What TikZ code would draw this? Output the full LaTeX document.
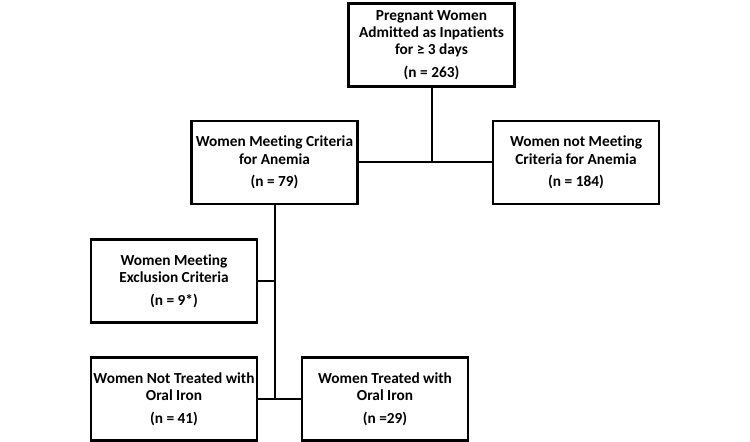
\documentclass[tikz,border=0pt]{standalone}
\usepackage{fontspec}
\setmainfont{Carlito}[Ligatures={NoCommon}]
\usetikzlibrary{positioning,calc}
\tikzset{
  box/.style  = {draw, line width=1.6pt, rectangle, minimum width=124.5pt,
                 minimum height=62.25pt, align=center, inner sep=2pt,
                 font=\fontsize{11.5}{13}\selectfont\bfseries},
  link/.style = {line width=1.5pt},
}

\begin{document}
\begin{tikzpicture}[x=0.75pt,y=-0.75pt]
\useasboundingbox (0,0) rectangle (750,442);
\node[box] (admitted) at (431.5,45)
  {Pregnant Women\\Admitted as Inpatients\\for ≥ 3 days\\[4pt](n = 263)};
\node[box] (anemia) at (274.5,162.5)
  {Women Meeting Criteria\\for Anemia\\[4pt](n = 79)};
\node[box] (noanemia) at (576,162.5)
  {Women not Meeting\\Criteria for Anemia\\[4pt](n = 184)};
\node[box] (excluded) at (174,281)
  {Women Meeting\\Exclusion Criteria\\[4pt](n = 9*)};
\node[box] (untreated) at (174,399)
  {Women Not Treated with\\Oral Iron\\[4pt](n = 41)};
\node[box] (treated) at (385,399)
  {Women Treated with\\Oral Iron\\[4pt](n =29)};
\draw[link] (admitted.south) -- (admitted.south |- anemia.east);
\draw[link] (anemia.east) -- (noanemia.west);
\draw[link] (anemia.south) -- (anemia.south |- untreated.east);
\draw[link] (excluded.east) -- (excluded.east -| anemia.south);
\draw[link] (untreated.east) -- (treated.west);
\end{tikzpicture}
\end{document}
